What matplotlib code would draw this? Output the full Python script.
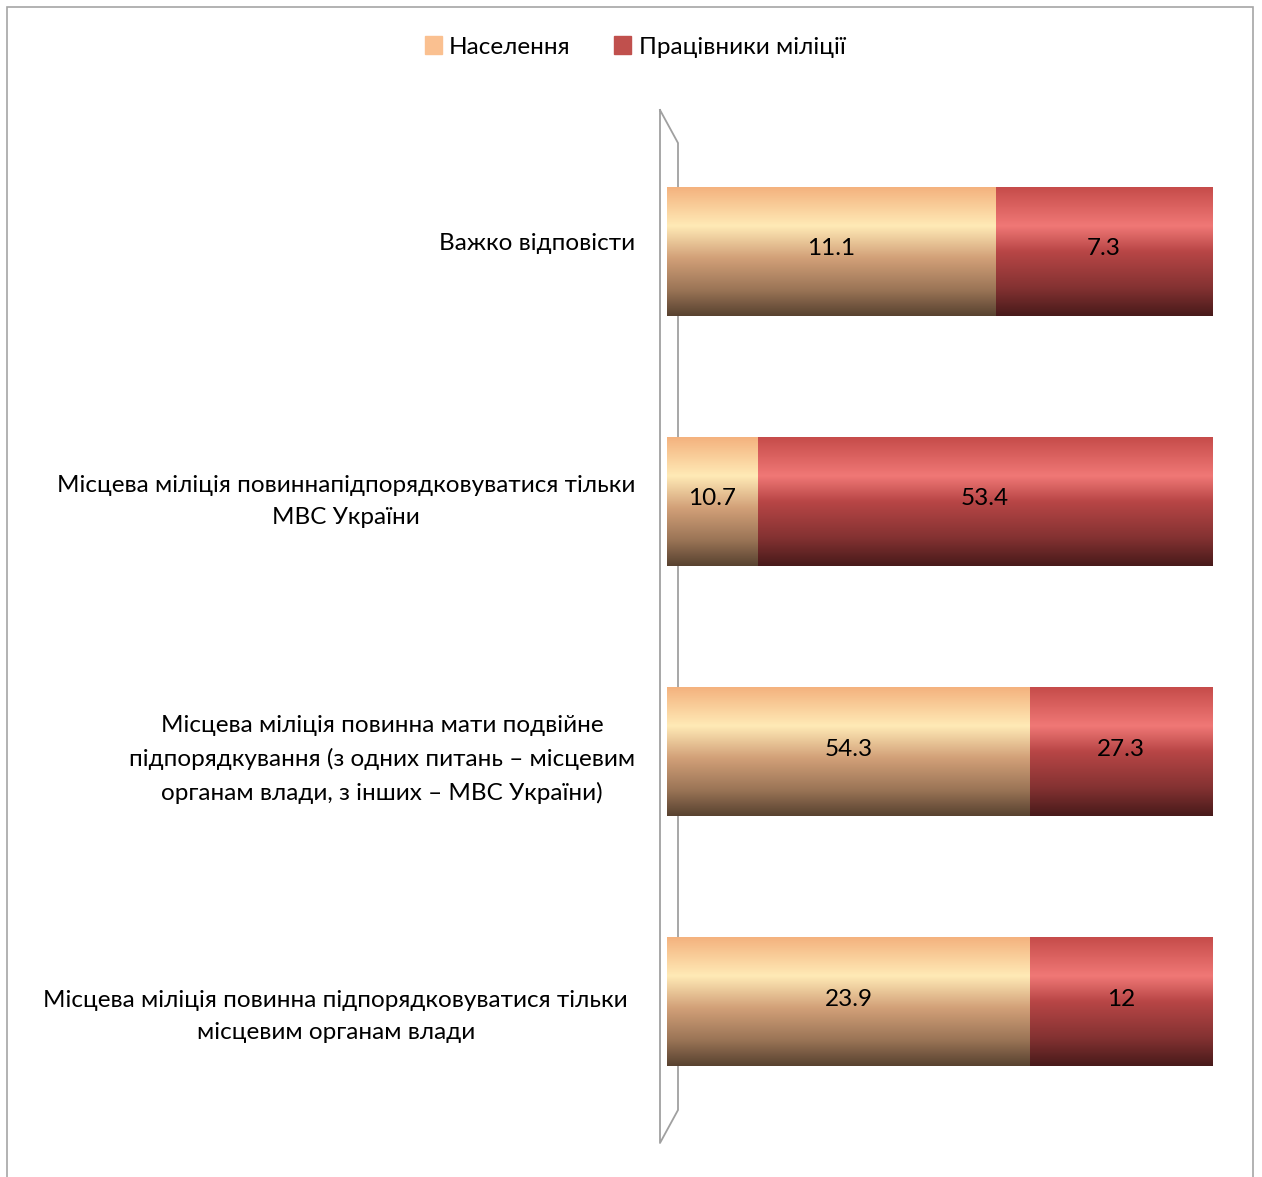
import numpy as np
import matplotlib.pyplot as plt
import matplotlib.transforms as mtransforms
from matplotlib.colors import LinearSegmentedColormap
from matplotlib.patches import Patch, Rectangle
from matplotlib.lines import Line2D

plt.rcParams['font.family'] = ['Lato', 'DejaVu Sans']

# data
categories = [
    'Важко відповісти',
    'Місцева міліція повиннапідпорядковуватися тільки\nМВС України',
    'Місцева міліція повинна мати подвійне\nпідпорядкування (з одних питань – місцевим\nорганам влади, з інших – МВС України)',
    'Місцева міліція повинна підпорядковуватися тільки\nмісцевим органам влади',
]
population = [11.1, 10.7, 54.3, 23.9]
police = [7.3, 53.4, 27.3, 12]
series_names = ['Населення', 'Працівники міліції']

# gradients imitating the cylinder shading
orange_cmap = LinearSegmentedColormap.from_list('or', [
    (0.0, '#F4B27E'), (0.3, '#FFEAB6'), (0.55, '#D2A078'),
    (0.8, '#9A7456'), (1.0, '#584230')])
red_cmap = LinearSegmentedColormap.from_list('rd', [
    (0.0, '#C64C4A'), (0.3, '#F07876'), (0.5, '#B84646'),
    (0.78, '#843232'), (1.0, '#481A1A')])

fs = 17.5
W, H = 1262, 1177
fig = plt.figure(figsize=(W / 100, H / 100), dpi=100)
ax = fig.add_axes([667 / W, (H - 1143) / H, 545 / W, 1033 / H])

grad = np.linspace(0, 1, 256).reshape(-1, 1)
bar_h = 0.515
for i in range(len(categories)):
    total = population[i] + police[i]
    p = population[i] / total * 100
    q = police[i] / total * 100
    segs = [(0, p, orange_cmap, population[i]), (p, q, red_cmap, police[i])]
    for left, width, cmap, val in segs:
        ax.imshow(grad, cmap=cmap, aspect='auto', interpolation='bilinear',
                  extent=(left, left + width, i + bar_h / 2, i - bar_h / 2),
                  zorder=3)
        ax.text(left + width / 2, i - 0.01, f'{val:g}', ha='center', va='center',
                fontsize=fs, color='black', zorder=4)

ax.set_xlim(0, 100)
ax.set_ylim(3.564, -0.564)
ax.set_yticks(range(len(categories)))
ax.set_yticklabels(categories, fontsize=fs, multialignment='center',
                   linespacing=1.65)
ax.tick_params(axis='y', length=0, pad=23)
# small per-label shifts (pixels) as in the original layout
shifts = [(0, 10), (0, 7), (0, 0), (-7, -7)]
for lbl, (dx, dy) in zip(ax.get_yticklabels(), shifts):
    lbl.set_transform(lbl.get_transform() +
                      mtransforms.ScaledTranslation(dx / 100, dy / 100, fig.dpi_scale_trans))
ax.set_xticks([])
for s in ax.spines.values():
    s.set_visible(False)
ax.patch.set_alpha(0)

# 3D back wall outline
def fx(x):
    return x / W
def fy(y):
    return (H - y) / H
wall_x = [660, 678, 678, 660, 660]
wall_y = [110, 143, 1110, 1143, 110]
fig.add_artist(Line2D([fx(v) for v in wall_x], [fy(v) for v in wall_y],
                      color='#A0A0A0', lw=1.3, zorder=1))
ax.set_zorder(2)

# outer border
fig.add_artist(Rectangle((fx(7), fy(1180)), fx(1253) - fx(7), fy(7) - fy(1180),
                         fill=False, ec='#A6A6A6', lw=1.2))

handles = [Patch(color='#FAC090'), Patch(color='#C0504D')]
fig.legend(handles, series_names, loc='center', bbox_to_anchor=(635 / W, fy(47)),
           ncol=2, frameon=False, fontsize=fs, handlelength=0.7,
           handleheight=0.7, handletextpad=0.3, columnspacing=1.8)

fig.savefig('out.png', dpi=100)
